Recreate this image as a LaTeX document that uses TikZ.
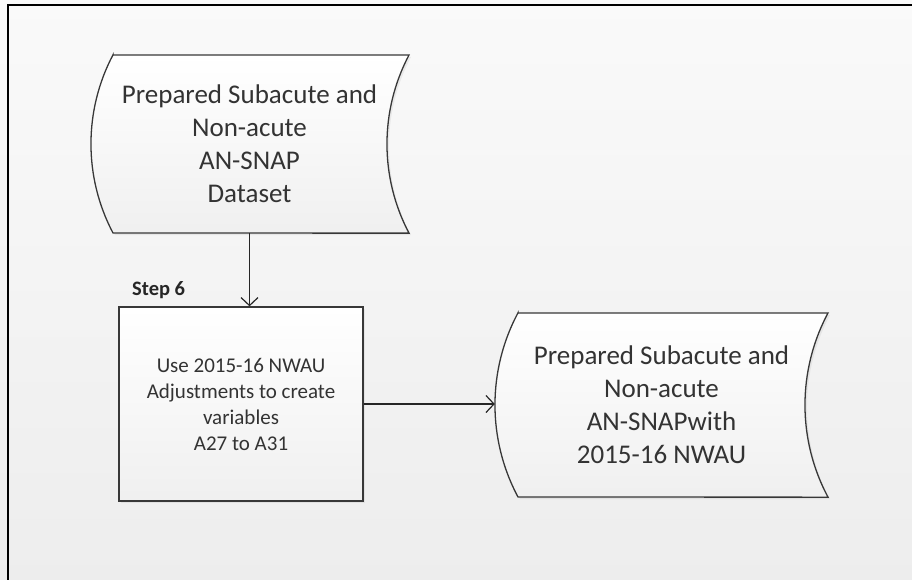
\documentclass[tikz,border=0pt]{standalone}
\usepackage{fontspec}
\setmainfont{Carlito}
\usetikzlibrary{arrows.meta,shadows}
\begin{document}
\begin{tikzpicture}[x=1pt,y=1pt,
  shapeline/.style={draw=black!78, line width=1.3pt, top color=white, bottom color=black!6,
    drop shadow={shadow xshift=2pt,shadow yshift=-2pt,opacity=0.12}},
  bigtext/.style={text=black!80, font=\fontsize{27}{33}\selectfont, align=center, inner sep=0pt},
  smalltext/.style={text=black!80, font=\fontsize{21}{26}\selectfont, align=center, inner sep=0pt},
  conn/.style={draw=black!85, line width=1.2pt, -{Straight Barb[length=8pt,width=17pt]}}
]
\fill[top color=black!2, bottom color=black!7] (0,0) rectangle (912,-580);
\useasboundingbox (0,0) rectangle (912,-580);
\draw[line width=2pt, black] (913,-5) -- (8,-5) -- (8,-581);

% top stored-data shape
\draw[shapeline] (113,-55) -- (409,-55)
  arc[start angle=152.2,end angle=207.8,radius=191pt] -- (113,-233)
  arc[start angle=207.8,end angle=152.2,radius=191pt] -- cycle;
\node[bigtext, minimum width=319pt, minimum height=178pt] (src) at (249.5,-144)
  {Prepared Subacute and\\Non-acute\\AN-SNAP\\Dataset};

% right stored-data shape
\draw[shapeline] (518,-313) -- (828,-313)
  arc[start angle=151.9,end angle=208.1,radius=195.5pt] -- (518,-497)
  arc[start angle=208.1,end angle=151.9,radius=195.5pt] -- cycle;
\node[bigtext, minimum width=333pt, minimum height=184pt] (dst) at (661.5,-405)
  {Prepared Subacute and\\Non-acute\\AN-SNAPwith\\2015-16 NWAU};

% process box
\node[shapeline, smalltext, minimum width=244pt, minimum height=194pt] (step) at (241,-404)
  {Use 2015-16 NWAU\\Adjustments to create\\variables\\A27 to A31};

\node[anchor=west, font=\bfseries\fontsize{20.5}{24}\selectfont, text=black!85, inner sep=0pt] (lbl) at (132,-290) {Step 6};

\draw[conn] (src.south) -- (src.south |- step.north);
\draw[conn] (step.east) -- (step.east -| dst.west);
\end{tikzpicture}
\end{document}
